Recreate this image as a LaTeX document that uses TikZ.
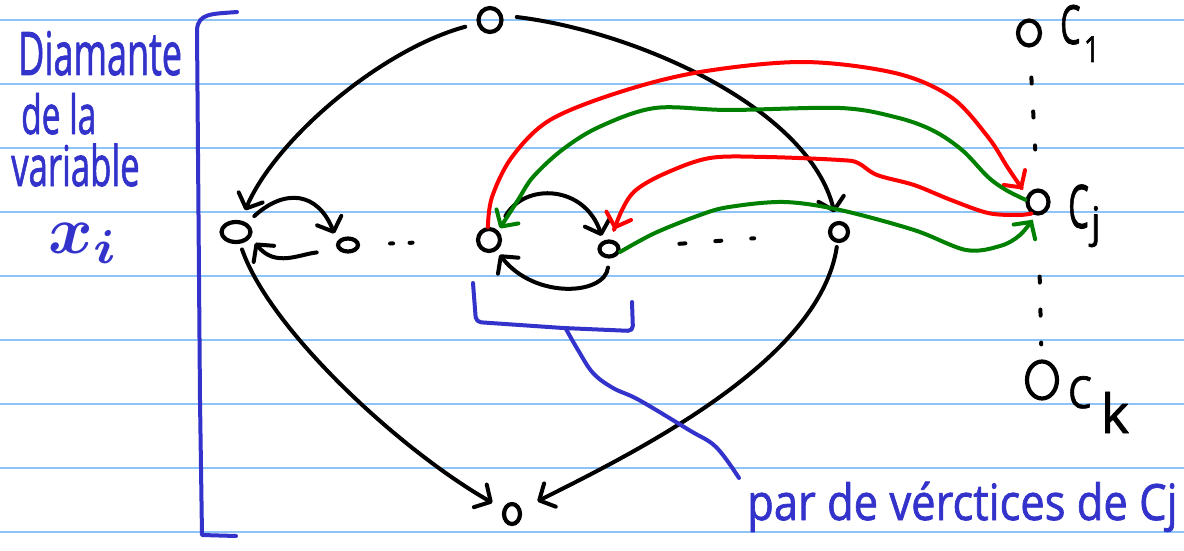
\documentclass[tikz,border=0pt]{standalone}
\usepackage{fontspec}
\usepackage{graphicx}
\newfontfamily\handn[FakeBold=1.5]{Open Sans}
\newcommand\handtext[3]{\scalebox{#1}[1]{\fontsize{#2}{#2}\handn #3}}
\usetikzlibrary{arrows.meta,shapes.geometric}
\definecolor{pen}{RGB}{51,51,204}
\definecolor{redpen}{RGB}{255,0,0}
\definecolor{greenpen}{RGB}{0,128,0}
\definecolor{rulecol}{RGB}{140,196,248}
\begin{document}
\begin{tikzpicture}[x=1pt,y=-1pt,line cap=round,line join=round,
  vtx/.style={draw=black,ellipse,line width=4.2pt,inner sep=0pt},
  blk/.style={draw=black,line width=4pt},
  arrowed/.style={-{Straight Barb[length=12pt,width=26pt,round]}},
  redarc/.style={draw=redpen,line width=4pt,arrowed},
  greenarc/.style={draw=greenpen,line width=4pt,arrowed},
  bluepen/.style={draw=pen,line width=4pt},
  bluetxt/.style={text=pen,anchor=base west,inner sep=0pt},
  lbl/.style={text=black,anchor=base west,inner sep=0pt}]
\useasboundingbox (0,0) rectangle (1184,551);
\fill[white] (0,0) rectangle (1184,551);
\foreach \y in {20,84,...,532} \draw[rulecol,line width=2pt,line cap=butt] (0,\y) -- (1184,\y);

% left caption and bracket
\node[bluetxt] (t1) at (18,75) {\handtext{0.6}{60}{Diamante}};
\node[bluetxt] (t2) at (21,134) {\handtext{0.62}{54}{de la}};
\node[bluetxt] (t3) at (11,186) {\handtext{0.62}{56}{variable}};
\node[bluetxt] (t4) at (48,253) {\scalebox{6.8}{\boldmath$x_i$}};
\draw[bluepen] (237,12) .. controls (212,14) and (198,13) .. (197,30) -- (200,400) -- (202,535) -- (236,536);

% vertices
\node[vtx,minimum width=23pt,minimum height=24pt] (top) at (490,20) {};
\node[vtx,minimum width=29pt,minimum height=20pt] (L) at (236,232) {};
\node[vtx,minimum width=20pt,minimum height=13pt] (s1) at (348,245) {};
\node[vtx,minimum width=22pt,minimum height=22pt] (ML) at (489,240) {};
\node[vtx,minimum width=19pt,minimum height=15pt] (MR) at (609,249) {};
\node[vtx,minimum width=18pt,minimum height=18pt] (R) at (839,232) {};
\node[vtx,minimum width=16pt,minimum height=20pt] (B) at (512,514) {};
\node[vtx,minimum width=22pt,minimum height=25pt] (C1) at (1029,33) {};
\node[vtx,minimum width=21pt,minimum height=23pt] (Cj) at (1038,202) {};
\node[vtx,minimum width=30pt,minimum height=37pt] (Ck) at (1042,380) {};

% clause labels
\node[lbl] (lc1) at (1060,44) {\handtext{0.6}{54}{C}\kern3pt\raisebox{-18pt}{\handtext{0.8}{36}{1}}};
\node[lbl] (lcj) at (1068,228) {\handtext{0.55}{60}{C}\kern2pt\raisebox{-9pt}{\handtext{0.9}{42}{j}}};
\node[lbl] (lck) at (1068,408) {\handtext{0.85}{44}{C}\kern9pt\raisebox{-25pt}{\handtext{1}{54}{k}}};

% black diamond edges
\draw[blk,arrowed,shorten <=12pt,shorten >=11pt] (top) .. controls (380,50) and (275,140) .. (L);
\draw[blk,arrowed,shorten <=14pt,shorten >=9pt] (top.20) .. controls (640,32) and (810,110) .. (R);
\draw[blk,arrowed,shorten <=6pt,shorten >=12pt] (L) .. controls (270,330) and (400,450) .. (B);
\draw[blk,arrowed,shorten <=4pt,shorten >=18pt] (R) .. controls (820,360) and (640,450) .. (B);

% local arcs
\draw[blk,arrowed,shorten <=10pt,shorten >=8pt] (L.40) .. controls (285,188) and (318,192) .. (s1.160);
\draw[blk,arrowed,shorten <=22pt,shorten >=7pt] (s1.-150) .. controls (300,254) and (275,268) .. (L.-20);
\draw[blk,arrowed,shorten <=16pt,shorten >=5pt] (ML.50) .. controls (525,182) and (585,185) .. (MR.125);
\draw[blk,arrowed,shorten <=9pt,shorten >=5pt] (MR.-90) .. controls (605,295) and (535,300) .. (ML.-55);

% omitted vertices
\draw[blk,dash pattern=on 3pt off 16.5pt,shorten <=30pt,shorten >=47pt] (s1) -- (ML);
\draw[blk,dash pattern=on 6pt off 30pt,shorten <=59pt,shorten >=74pt] (MR) -- (R);
\draw[blk,dash pattern=on 6pt off 28pt,shorten <=30pt,shorten >=39pt] (C1) -- (Cj);
\draw[blk,dash pattern=on 6pt off 27pt,shorten <=61pt,shorten >=15pt] (Cj) -- (Ck);

% clause arcs
\draw[redarc,shorten >=8pt] plot[smooth,tension=0.55] coordinates {(ML.95) (492,197) (512,157) (550,120) (620,92) (700,72) (803,62) (895,73) (951,97) (988,137) (1008,168) (Cj.150)};
\draw[greenarc,shorten >=3pt] plot[smooth,tension=0.55] coordinates {(Cj.170) (1006,190) (988,177) (962,150) (932,130) (895,117) (840,108) (729,110) (655,108) (599,127) (562,150) (533,177) (518,200) (ML.45)};
\draw[redarc,shorten >=11pt] plot[smooth,tension=0.55] coordinates {(Cj.-120) (1018,215) (988,213) (951,200) (914,185) (877,175) (858,163) (840,160) (766,157) (710,158) (666,173) (636,190) (622,210) (MR.80)};
\draw[greenarc,shorten >=6pt] plot[smooth,tension=0.55] coordinates {(MR.-15) (655,233) (700,215) (729,207) (784,202) (840,210) (914,230) (966,250) (1000,246) (1020,235) (Cj.-100)};

% pair bracket and its label
\draw[bluepen,rounded corners=5pt] (473,283) -- (476,322) -- (563,328) -- (633,331) -- (632,302);
\coordinate (pm) at (566,329);
\coordinate (le) at (739,478);
\node[bluetxt] (pairlab) at (747,520) {\handtext{0.87}{50}{par de vérctices de Cj}};
\draw[bluepen] plot[smooth,tension=0.6] coordinates {(pm) (578,350) (593,373) (613,388) (639,400) (689,430) (716,447) (le)};
\end{tikzpicture}
\end{document}
